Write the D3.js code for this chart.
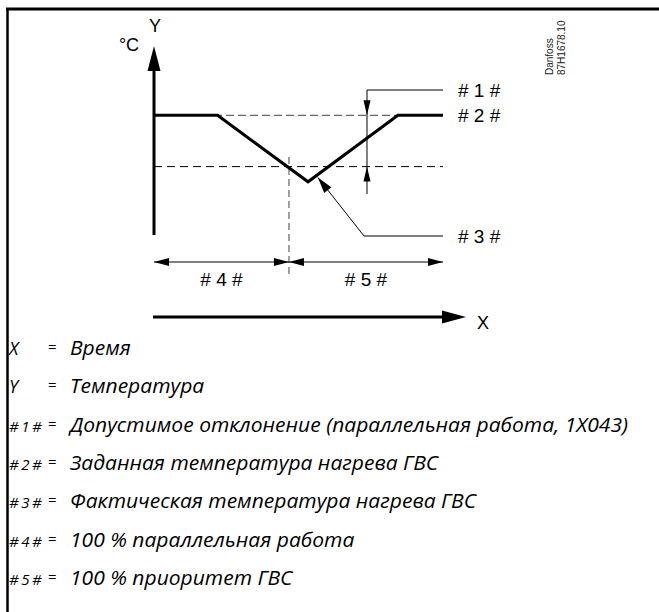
<!DOCTYPE html>
<html>
<head>
<meta charset="utf-8">
<script src="https://cdn.jsdelivr.net/npm/d3@7"></script>
<style>
  html, body { margin: 0; padding: 0; background: #fff; }
  svg { display: block; }
</style>
</head>
<body>
<svg id="chart" width="659" height="612"></svg>
<script>
// ---------- data ----------
const timePoints = [0, 22, 53.3, 84.4, 100];        // time (relative, %)
const tempValues = [63, 63, 28, 63, 63];            // actual DHW temperature (relative)
const setpointTemp = 63;                            // # 2 #
const toleranceTemp = 36;                           // lower limit of allowed deviation
const switchTime = 46.7;                            // border between # 4 # and # 5 #
const toleranceMarkerTime = 73.7;                   // where # 1 # is dimensioned
const pointerTime = 56.7;                           // where # 3 # points
const axisLabels = { x: "X", y: "Y", unit: "°C" };
const markerLabels = ["# 1 #", "# 2 #", "# 3 #", "# 4 #", "# 5 #"];
const legendKeys = ["X", "Y", "# 1 #", "# 2 #", "# 3 #", "# 4 #", "# 5 #"];
const legendTexts = [
  "Время",
  "Температура",
  "Допустимое отклонение (параллельная работа, 1X043)",
  "Заданная температура нагрева ГВС",
  "Фактическая температура нагрева ГВС",
  "100 % параллельная работа",
  "100 % приоритет ГВС"
];
const stampLines = ["Danfoss", "87H1678.10"];

// ---------- layout ----------
const svg = d3.select("#chart");
const x = d3.scaleLinear().domain([0, 100]).range([154, 443]);
const y = d3.scaleLinear().domain([0, 100]).range([235, 45]);
const ARIAL = "Liberation Sans, Arial, sans-serif";

function arrowHead(g, tipX, tipY, dirX, dirY, len, half) {
  const bx = tipX - dirX * len, by = tipY - dirY * len;
  const px = -dirY, py = dirX;
  g.append("path")
    .attr("d", `M${tipX},${tipY}L${bx + px * half},${by + py * half}L${bx - px * half},${by - py * half}Z`)
    .attr("fill", "#000");
}

// frame
svg.append("line").attr("x1", 6).attr("x2", 659).attr("y1", 9).attr("y2", 9)
  .attr("stroke", "#000").attr("stroke-width", 3);
svg.append("line").attr("x1", 7.5).attr("x2", 7.5).attr("y1", 8).attr("y2", 612)
  .attr("stroke", "#000").attr("stroke-width", 2.5);

const g = svg.append("g");

// Y axis
g.append("line").attr("x1", x(0)).attr("x2", x(0)).attr("y1", y(0)).attr("y2", 66)
  .attr("stroke", "#000").attr("stroke-width", 3);
arrowHead(g, x(0), 46, 0, -1, 25, 6.5);
g.append("text").attr("x", x(0) + 1).attr("y", 32).attr("text-anchor", "middle")
  .attr("font-family", ARIAL).attr("font-size", 18).text(axisLabels.y);
g.append("text").attr("x", 129).attr("y", 51).attr("text-anchor", "middle")
  .attr("font-family", ARIAL).attr("font-size", 18).text(axisLabels.unit);

// X axis
const xAxisY = 317;
g.append("line").attr("x1", x(0) - 1).attr("x2", 445).attr("y1", xAxisY).attr("y2", xAxisY)
  .attr("stroke", "#000").attr("stroke-width", 3);
arrowHead(g, 466, xAxisY, 1, 0, 24, 6.5);
g.append("text").attr("x", 483).attr("y", xAxisY + 12).attr("text-anchor", "middle")
  .attr("font-family", ARIAL).attr("font-size", 18).text(axisLabels.x);

// setpoint dashed (grey) and tolerance dashed (black)
g.append("line").attr("x1", x(0)).attr("x2", x(100)).attr("y1", y(setpointTemp)).attr("y2", y(setpointTemp))
  .attr("stroke", "#666").attr("stroke-width", 1.3).attr("stroke-dasharray", "8,4");
g.append("line").attr("x1", x(0)).attr("x2", x(100)).attr("y1", y(toleranceTemp)).attr("y2", y(toleranceTemp))
  .attr("stroke", "#000").attr("stroke-width", 1).attr("stroke-dasharray", "8,5");

// vertical switch dashed line
g.append("line").attr("x1", x(switchTime)).attr("x2", x(switchTime)).attr("y1", 157).attr("y2", 277)
  .attr("stroke", "#444").attr("stroke-width", 1).attr("stroke-dasharray", "7,4");

// temperature curve
const line = d3.line().x((d, i) => x(timePoints[i])).y(d => y(d));
g.append("path").datum(tempValues).attr("d", line)
  .attr("fill", "none").attr("stroke", "#000").attr("stroke-width", 3).attr("stroke-linejoin", "miter");

// # 1 # dimension
const dx = x(toleranceMarkerTime);
g.append("polyline")
  .attr("points", `${x(100)},90 ${dx},90 ${dx},194`)
  .attr("fill", "none").attr("stroke", "#000").attr("stroke-width", 1);
arrowHead(g, dx, y(setpointTemp), 0, 1, 15, 3.5);
arrowHead(g, dx, y(toleranceTemp), 0, -1, 15, 3.5);

// # 3 # pointer
const ptY = y(tempValues[2] + (tempValues[3] - tempValues[2]) * (pointerTime - timePoints[2]) / (timePoints[3] - timePoints[2])) + 3;
const ptX = x(pointerTime);
const elbowX = 364, elbowY = 236;
g.append("polyline").attr("points", `${x(100)},${elbowY} ${elbowX},${elbowY} ${ptX},${ptY}`)
  .attr("fill", "none").attr("stroke", "#000").attr("stroke-width", 1);
{
  const vx = ptX - elbowX, vy = ptY - elbowY, L = Math.hypot(vx, vy);
  arrowHead(g, ptX, ptY, vx / L, vy / L, 16, 4.5);
}

// bottom dimension (# 4 # / # 5 #)
const dimY = 262;
g.append("line").attr("x1", x(0)).attr("x2", x(100)).attr("y1", dimY).attr("y2", dimY)
  .attr("stroke", "#000").attr("stroke-width", 1);
arrowHead(g, x(0), dimY, -1, 0, 15, 4);
arrowHead(g, x(switchTime), dimY, 1, 0, 15, 4);
arrowHead(g, x(switchTime), dimY, -1, 0, 15, 4);
arrowHead(g, x(100), dimY, 1, 0, 15, 4);

// marker labels
const mk = g.append("g").attr("font-family", ARIAL).attr("font-size", 19);
mk.append("text").attr("x", 458).attr("y", 97).text(markerLabels[0]);
mk.append("text").attr("x", 458).attr("y", y(setpointTemp) + 7).text(markerLabels[1]);
mk.append("text").attr("x", 458).attr("y", elbowY + 7).text(markerLabels[2]);
mk.append("text").attr("x", (x(0) + x(switchTime)) / 2).attr("y", 286).attr("text-anchor", "middle").text(markerLabels[3]);
mk.append("text").attr("x", (x(switchTime) + x(100)) / 2).attr("y", 286).attr("text-anchor", "middle").text(markerLabels[4]);

// stamp
const st = g.append("g").attr("font-family", ARIAL).attr("font-size", 10).attr("fill", "#222");
stampLines.forEach((s, i) => {
  st.append("text").attr("transform", `translate(${553 + i * 12},75) rotate(-90)`).text(s);
});

// legend
const lg = svg.append("g").attr("font-family", "Open Sans, sans-serif").attr("font-style", "italic");
const rowY = d3.scaleLinear().domain([0, legendKeys.length - 1]).range([349, 579]);
const descs = [];
legendKeys.forEach((k, i) => {
  const yy = rowY(i) + 6;
  lg.append("text").attr("x", 9).attr("y", yy).attr("font-size", k.length > 1 ? 15 : 18)
    .text(k.replace(/ /g, "\u2009"));
  lg.append("text").attr("x", 48).attr("y", yy - 3).attr("font-style", "normal").attr("font-size", 15).text("=");
  descs.push(lg.append("text").attr("x", 70).attr("y", yy).attr("font-size", 19.5).text(legendTexts[i]));
});
// fit legend descriptions uniformly so the longest line spans like the reference
const longest = d3.max(descs, t => t.node().getComputedTextLength());
const factor = 558 / longest;
descs.forEach(t => {
  const w = t.node().getComputedTextLength();
  t.attr("textLength", w * factor).attr("lengthAdjust", "spacingAndGlyphs");
});
</script>
</body>
</html>
